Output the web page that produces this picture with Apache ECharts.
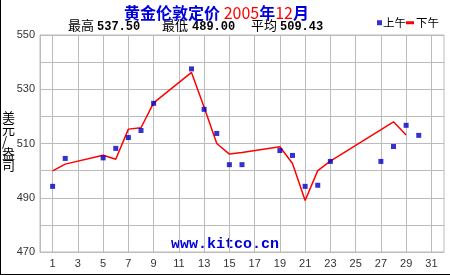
<!DOCTYPE html>
<html>
<head>
<meta charset="utf-8">
<script src="https://cdn.jsdelivr.net/npm/echarts@6/dist/echarts.min.js"></script>
<style>
html,body{margin:0;padding:0;background:#fff;}
#c{width:450px;height:275px;}
</style>
</head>
<body>
<div id="c"></div>
<script>
// ---- data ----
const amDays  = [1, 2, 5, 6, 7, 8, 9, 12, 13, 14, 15, 16, 19, 20, 21, 22, 23, 27, 28, 29, 30];
const amPrice = [494.2, 504.5, 504.7, 508.2, 512.2, 514.8, 524.8, 537.5, 522.6, 513.7, 502.2, 502.2, 507.4, 505.6, 494.2, 494.6, 503.4, 503.4, 508.9, 516.7, 513.0];
const pmDays  = [1, 2, 5, 6, 7, 8, 9, 12, 13, 14, 15, 16, 19, 20, 21, 22, 23, 28, 29];
const pmPrice = [499.9, 502.4, 505.7, 504.2, 515.3, 515.8, 525.0, 536.2, 523.4, 510.0, 506.1, 506.7, 508.8, 502.6, 489.0, 500.0, 503.5, 518.0, 513.1];
const xTickDays = [1, 3, 5, 7, 9, 11, 13, 15, 17, 19, 21, 23, 25, 27, 29, 31];
const seriesNames = ['上午', '下午'];
const titleMain = '黄金伦敦定价 ';
const titleYear = '2005', titleYearUnit = '年', titleMonth = '12', titleMonthUnit = '月';
const statLabels = ['最高', '最低', '平均'];
const statValues = ['537.50', '489.00', '509.43'];
const yAxisName = '美元/盎司';
const watermark = 'www.kitco.cn';
const yMin = 470, yMax = 550, yStep = 10, yLabelStep = 20;
const xMin = 0, xMax = 32;

const amData = amDays.map((d, i) => [d, amPrice[i]]);
const pmData = pmDays.map((d, i) => [d, pmPrice[i]]);

const CJK = '"Noto Sans CJK SC", sans-serif';
const chart = echarts.init(document.getElementById('c'), null, {renderer: 'canvas'});

const statX = [[68, 97], [162, 192], [251, 280]];
const statGraphics = [];
statLabels.forEach((l, i) => {
  statGraphics.push({type: 'text', left: statX[i][0], top: 19, style: {text: l, font: '13px ' + CJK, fill: '#000'}});
  statGraphics.push({type: 'text', left: statX[i][1], top: 21, style: {text: statValues[i], font: 'bold 12px "Liberation Mono", monospace', fill: '#000'}});
});

chart.setOption({
  animation: false,
  backgroundColor: '#fff',
  title: {
    left: 119, top: 0,
    text: '{a|' + titleMain + '}{b|' + titleYear + '}{a|' + titleYearUnit + '}{b|' + titleMonth + '}{a|' + titleMonthUnit + '}',
    textStyle: {
      rich: {
        a: {fontFamily: CJK, fontWeight: 'bold', fontSize: 16, color: '#0000dd'},
        b: {fontFamily: CJK, fontWeight: 'normal', fontSize: 16, color: '#ff0000'}
      }
    }
  },
  legend: [
    {data: [seriesNames[0]], left: 377, top: 17, padding: 0, itemWidth: 5, itemHeight: 5, itemGap: 0,
     textStyle: {fontFamily: CJK, fontSize: 11.5, color: '#000', padding: [0, 0, 0, -4]}},
    {data: [{name: seriesNames[1], icon: 'rect'}], left: 406, top: 17, padding: 0, itemWidth: 8, itemHeight: 3, itemGap: 0,
     textStyle: {fontFamily: CJK, fontSize: 11.5, color: '#000', padding: [0, 0, 0, -3]}}
  ],
  grid: {left: 40, top: 35, width: 404, height: 217, show: true, borderColor: '#bbbbbb', borderWidth: 1},
  xAxis: {type: 'value', min: xMin, max: xMax, interval: 1,
    axisLine: {show: true, lineStyle: {color: '#bbbbbb'}}, axisTick: {show: false},
    splitLine: {show: false},
    axisLabel: {margin: 6, formatter: v => (xTickDays.indexOf(v) >= 0 ? String(v) : ''),
      fontFamily: '"Liberation Sans", Arial, sans-serif', fontSize: 11, color: '#333'}},
  yAxis: {type: 'value', min: yMin, max: yMax, interval: yStep,
    axisLine: {show: true, lineStyle: {color: '#bbbbbb'}}, axisTick: {show: false},
    splitLine: {show: true, lineStyle: {color: '#bbbbbb', width: 1}},
    axisLabel: {margin: 5, formatter: v => ((v - yMin) % yLabelStep === 0 ? String(v) : ''),
      fontFamily: '"Liberation Sans", Arial, sans-serif', fontSize: 11, color: '#333'}},
  graphic: [
    {type: 'text', left: 2, top: 111, style: {text: yAxisName.split('').join('\n'), font: '13px ' + CJK, lineHeight: 12, fill: '#000', align: 'center'}},
    {type: 'text', left: 171, top: 237, style: {text: watermark, font: 'bold 15px "Liberation Mono", monospace', fill: '#0000dd'}},
    {type: 'line', shape: {x1: 0.5, y1: 0, x2: 0.5, y2: 275}, style: {stroke: '#000', lineWidth: 1}},
    {type: 'line', shape: {x1: 0, y1: 274.5, x2: 450, y2: 274.5}, style: {stroke: '#000', lineWidth: 1}}
  ].concat(statGraphics),
  series: [
    {name: seriesNames[0], type: 'scatter', data: amData, symbol: 'rect', symbolSize: 5,
     itemStyle: {color: '#0000c0'}, z: 4},
    {name: seriesNames[1], type: 'line', data: pmData, showSymbol: false, symbol: 'none',
     lineStyle: {color: '#ff0000', width: 1.5}, itemStyle: {color: '#ff0000'}, z: 3,
     markLine: {silent: true, symbol: 'none', animation: false, label: {show: false}, z: 1,
       lineStyle: {color: '#bbbbbb', width: 1, type: 'solid'},
       data: xTickDays.map(d => ({xAxis: d}))}}
  ]
});
</script>
</body>
</html>
